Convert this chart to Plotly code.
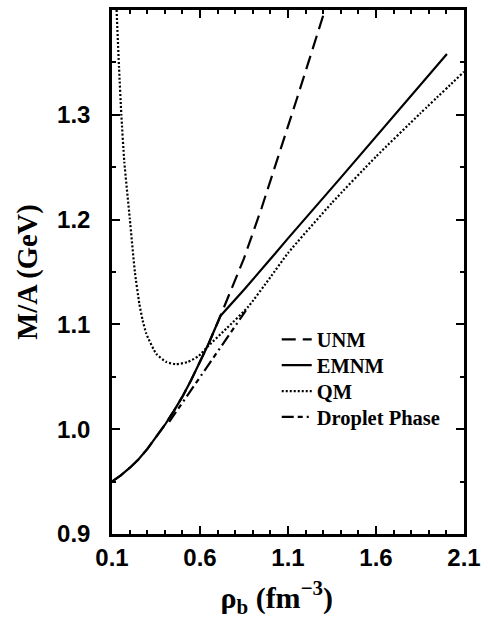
import plotly.graph_objects as go

# ---- data ----
rho_emnm = [0.10, 0.15, 0.20, 0.25, 0.30, 0.35, 0.40, 0.45, 0.50, 0.55, 0.60, 0.65,
            0.716, 0.85, 1.004, 1.10, 1.40, 1.60, 2.003]
m_emnm = [0.950, 0.956, 0.963, 0.971, 0.981, 0.992, 1.004, 1.017, 1.031, 1.047, 1.064, 1.082,
          1.108, 1.133, 1.163, 1.182, 1.240, 1.279, 1.358]

rho_unm = [0.10, 0.15, 0.20, 0.25, 0.30, 0.35, 0.40, 0.45, 0.50, 0.55, 0.60, 0.65,
           0.716, 0.78, 0.85, 0.95, 1.05, 1.15, 1.25, 1.31]
m_unm = [0.950, 0.956, 0.963, 0.971, 0.981, 0.992, 1.004, 1.017, 1.031, 1.047, 1.064, 1.082,
         1.108, 1.134, 1.163, 1.211, 1.262, 1.315, 1.368, 1.400]

rho_qm = [0.126, 0.140, 0.153, 0.170, 0.201, 0.230, 0.255, 0.274, 0.295, 0.351,
          0.41, 0.463, 0.53, 0.594, 0.639, 0.75, 0.875, 1.00, 1.10, 1.35,
          1.60, 1.85, 2.10]
m_qm = [1.400, 1.345, 1.300, 1.255, 1.201, 1.150, 1.120, 1.104, 1.091, 1.072,
        1.064, 1.062, 1.064, 1.070, 1.078, 1.096, 1.117, 1.145, 1.168, 1.216,
        1.260, 1.301, 1.341]

rho_drop = [0.425, 0.578, 0.86]
m_drop = [1.007, 1.044, 1.113]

series_names = ["UNM", "EMNM", "QM", "Droplet Phase"]

x_tick0, x_dtick = 0.1, 0.5
y_tick0, y_dtick = 0.9, 0.1

LW = 2.2
serif = "Liberation Serif, Times New Roman, serif"
fig = go.Figure()
fig.add_trace(go.Scatter(x=rho_unm, y=m_unm, mode="lines", name=series_names[0], legend="legend",
                         line=dict(color="black", width=LW, dash="14px,7px")))
fig.add_trace(go.Scatter(x=rho_emnm, y=m_emnm, mode="lines", name=series_names[1], legend="legend2",
                         line=dict(color="black", width=LW)))
fig.add_trace(go.Scatter(x=rho_qm, y=m_qm, mode="lines", name=series_names[2], legend="legend3",
                         line=dict(color="black", width=LW, dash="2px,2px", shape="spline", smoothing=0.5)))
fig.add_trace(go.Scatter(x=rho_drop, y=m_drop, mode="lines", name=series_names[3], legend="legend4",
                         line=dict(color="black", width=LW, dash="12px,4px,5px,4px,2px,4px")))

tickfont = dict(family="Liberation Sans, Arial, sans-serif", size=24, color="black", weight="bold")

def leg(y):
    return dict(x=0.468, y=y, xanchor="left", yanchor="middle",
                bgcolor="rgba(0,0,0,0)", borderwidth=0,
                font=dict(family=serif, size=20.5, color="black", weight="bold"))

fig.update_layout(
    width=488, height=619,
    margin=dict(l=112, r=20, t=7, b=84),
    paper_bgcolor="white", plot_bgcolor="white",
    showlegend=True,
    legend=leg(0.371), legend2=leg(0.322), legend3=leg(0.2725), legend4=leg(0.223),
)
fig.update_xaxes(
    range=[0.1, 2.1], tickmode="linear", tick0=x_tick0, dtick=x_dtick, tickformat=".1f",
    showgrid=False, zeroline=False, showline=True, linecolor="black", linewidth=2.5,
    mirror="allticks", ticks="inside", ticklen=8, tickwidth=2, tickcolor="black",
    minor=dict(ticks="inside", ticklen=4, tickwidth=1.5, tickcolor="black", dtick=0.1, tick0=0.1),
    tickfont=tickfont, ticklabelstandoff=0,
    title=dict(text="ρ<sub>b</sub> (fm<sup>−3</sup>)&nbsp;&nbsp;&nbsp;",
               font=dict(family=serif, size=30, color="black", weight="bold"), standoff=20),
)
fig.update_yaxes(
    range=[0.9, 1.3999], tickmode="linear", tick0=y_tick0, dtick=y_dtick, tickformat=".1f",
    showgrid=False, zeroline=False, showline=True, linecolor="black", linewidth=2.5,
    mirror="allticks", ticks="inside", ticklen=8, tickwidth=2, tickcolor="black",
    minor=dict(ticks="inside", ticklen=4, tickwidth=1.5, tickcolor="black", dtick=0.05, tick0=0.9),
    tickfont=tickfont, ticklabelstandoff=14,
    title=dict(text="M/A (GeV)",
               font=dict(family=serif, size=28.5, color="black", weight="bold"), standoff=12),
)

fig.write_html("out.html")
